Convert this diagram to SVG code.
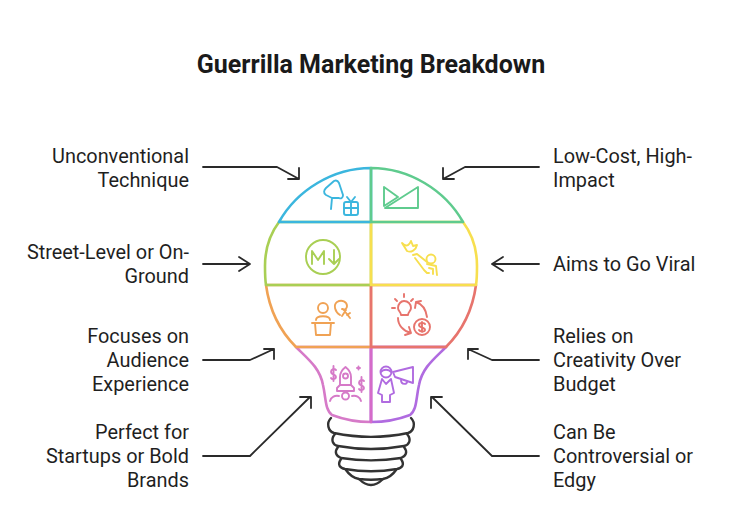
<svg xmlns="http://www.w3.org/2000/svg" width="731" height="520" viewBox="0 0 731 520">
<style>
text{font-family:"Roboto","Liberation Sans",sans-serif;font-size:19.9px;fill:#1f1f1f}
.t{font-size:25px;font-weight:700;fill:#1a1a1a;text-anchor:middle}
.r{text-anchor:end}
.s{fill:none;stroke-width:2.6;stroke-linecap:round;stroke-linejoin:round}
.i{fill:none;stroke-width:1.9;stroke-linecap:round;stroke-linejoin:round}
.a{fill:none;stroke:#2a2a2a;stroke-width:1.8;stroke-linecap:round;stroke-linejoin:round}
.b{fill:none;stroke:#333;stroke-width:2.4;stroke-linecap:round;stroke-linejoin:round}
</style>
<rect width="731" height="520" fill="#fff"/>
<text class="t" x="371" y="73">Guerrilla Marketing Breakdown</text>
<g id="connectors">
<path class="a" d="M203 167H277L299 179M299 168V179H288"/>
<path class="a" d="M539 167H465L443 179M443 168V179H454"/>
<path class="a" d="M203 264H249M239 257L250 264L239 271"/>
<path class="a" d="M539 264H493M503 257L492 264L503 271"/>
<path class="a" d="M203 360H250L274 349M264 349H274V359"/>
<path class="a" d="M539 360H492L468 349M478 349H468V359"/>
<path class="a" d="M203 456H250L310 397M300 397H311V408"/>
<path class="a" d="M539 456H492L432 397M442 397H431V408"/>
</g>
<g id="bulb-base">
<path class="b" d="M331 418C326 423 328 431 334 433C358 438 384 438 408 433C414 431 416 423 411 418"/>
<path class="b" d="M335 434C330 440 333 445 338 446C360 450 382 450 404 446C409 445 412 440 407 434"/>
<path class="b" d="M338 447C334 452 336 456 341 458C360 461 382 461 401 458C406 456 408 452 404 447"/>
<path class="b" d="M341 459C337 465 340 468 345 469C362 472 380 472 397 469C402 468 405 465 401 459"/>
<path class="b" d="M346 470C350 476 354 478 359 479C367 480 375 480 383 479C388 478 392 476 396 470"/>
<path class="b" d="M359 479C362 482 367 485 371 485C375 485 380 482 383 479"/>
</g>
<g id="node-startups">
<path class="s" stroke="#d67ac8" d="M296 347C308 359 320 368 323 385C326 398 325 410 332 415C345 420 360 422 371 422V347Z"/>
<g class="i" stroke="#d67ac8">
<path d="M340 385V377C340 372 343 369 345.500 367C348 369 351 372 351 377V385Z"/><circle cx="345.500" cy="376" r="2.500"/>
<path d="M340 385L337 388V391H354V388L351 385"/>
<circle cx="345.500" cy="396" r="3.500"/><path d="M330 401C331 397 335 395 339 396M361 401C360 397 356 395 352 396"/>
<path d="M336 370C334 368 331 369 331 372C331 375 336 374 336 377C336 379 332 380 331 378M333.500 366V381M364 381C362 379 359 380 359 383C359 386 364 385 364 388C364 390 360 391 359 389M361.500 377V392"/>
<path d="M357 368H360M358.500 366.500V369.500"/>
</g>
</g>
<g id="node-controversial">
<path class="s" stroke="#b06be0" d="M446 347C434 359 422 368 419 385C416 398 417 410 410 415C397 420 382 422 371 422V347Z"/>
<path class="s" stroke="#d56bc9" d="M371 347V422"/>
<g class="i" stroke="#b06be0">
<circle cx="386" cy="372" r="5.500"/><path d="M381 372C383 369 389 369 391 372"/>
<path d="M382 379L386 384L391 379L394 393L390 395V402H382V395L378 393Z"/>
<path d="M393 372L413 367V383L395 377ZM401 380C401 385 408 385 407 381"/>
</g>
</g>
<g id="node-audience">
<path class="s" stroke="#f0a254" d="M266 285C269 307 278 329 296 347H371V285Z"/>
<path class="s" stroke="#e7749a" d="M371 347H446"/>
<g class="i" stroke="#f0a254">
<circle cx="323" cy="308" r="5"/><path d="M316 320C316 315 330 315 330 320M312 323H334M315 323L316 335H330L331 323"/>
<path d="M340 315C335 312 333 305 337 302C342 299 347 302 347 306C347 309 345 310 342 309M343 309L350 318M346 310L342 316M347 315L350 313"/>
</g>
</g>
<g id="node-creativity">
<path class="s" stroke="#e7746d" d="M476 285C473 307 464 329 446 347H371V285Z"/>
<g class="i" stroke="#e7746d">
<path d="M398 308C398 304 401 301 404 301C408 301 411 304 411 308C411 311 408 312 408 315H401C401 312 398 311 398 308ZM395 308H392M404 297V294M397 301L395 299M411 301L413 299"/>
<path d="M416 302C422 304 426 310 427 317M416 302L415 308M416 302L421 301"/>
<path d="M398 318C398 325 403 331 411 333M411 333L409 327M411 333L405 335"/>
<circle cx="422" cy="327" r="8"/><path d="M425 324C423 322 419 323 419 325C419 328 425 327 425 330C425 332 420 332 419 330M422 322V332"/>
</g>
</g>
<g id="node-street">
<path class="s" stroke="#a9cf54" d="M279 222C270 234 265 250 265 266C265 273 265 279 266 285H371V222Z"/>
<g class="i" stroke="#a9cf54">
<circle cx="323" cy="257" r="17"/>
<path d="M312 264V251L318 260L324 251V264M334 250V264M329 259L334 264L339 259"/>
</g>
</g>
<g id="node-viral">
<path class="s" stroke="#f7df4f" d="M463 222C472 234 477 250 477 266C477 273 477 279 476 285H371V222Z"/>
<g class="i" stroke="#f7df4f">
<path d="M402 243C406 247 409 246 411 241L413 246L417 245C416 250 411 253 407 251Z"/>
<path d="M413 255L417 254L427 262"/><circle cx="431" cy="259" r="4.500"/>
<path d="M415 258L424 270L427 273H429M427 264L436 266L437 275M429 268L433 269L433 274"/>
</g>
</g>
<g id="node-unconventional">
<path class="s" stroke="#3bb6de" d="M371 168C333 168 297 190 279 222H371Z"/>
<g class="i" stroke="#3bb6de">
<path d="M331 209L332 198L326 195C323 193 324 190 326 188L334 181C336 180 338 181 339 183L343 195C343 198 341 199 339 198L332 198"/>
<rect x="344" y="202" width="14" height="13" rx="2"/><path d="M351 202V215M344 208H358M347 197L351 202L355 197"/>
</g>
</g>
<g id="node-lowcost">
<path class="s" stroke="#5fcb8e" d="M371 168C409 168 445 190 463 222H371Z"/>
<g class="i" stroke="#5fcb8e">
<path d="M384 187L398 197L384 206Z"/>
<path d="M385 208L418 187V208Z"/>
</g>
</g>
<g id="labels-left">
<text class="r" x="189" y="163">Unconventional</text><text class="r" x="189" y="187">Technique</text>
<text class="r" x="189" y="259">Street-Level or On-</text><text class="r" x="189" y="283">Ground</text>
<text class="r" x="189" y="343">Focuses on</text><text class="r" x="189" y="367">Audience</text><text class="r" x="189" y="391">Experience</text>
<text class="r" x="189" y="439">Perfect for</text><text class="r" x="189" y="463">Startups or Bold</text><text class="r" x="189" y="487">Brands</text>
</g>
<g id="labels-right">
<text x="553" y="163">Low-Cost, High-</text><text x="553" y="187">Impact</text>
<text x="553" y="271">Aims to Go Viral</text>
<text x="553" y="343">Relies on</text><text x="553" y="367">Creativity Over</text><text x="553" y="391">Budget</text>
<text x="553" y="439">Can Be</text><text x="553" y="463">Controversial or</text><text x="553" y="487">Edgy</text>
</g>
</svg>
